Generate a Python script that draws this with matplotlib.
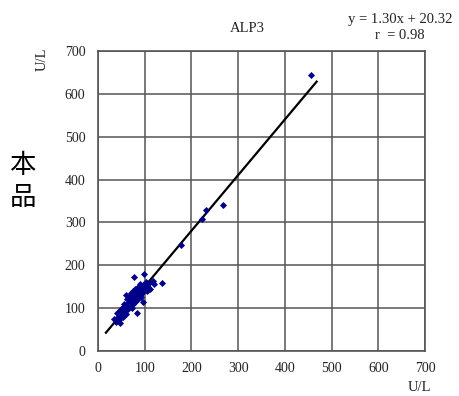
import numpy as np
import matplotlib
matplotlib.use("Agg")
import matplotlib.pyplot as plt

# data
x_vals = [35, 38, 40, 42, 45, 47, 48, 50, 52, 53, 55, 56, 58, 60, 60, 62, 63, 65, 65,
          67, 68, 70, 70, 72, 73, 75, 75, 77, 78, 78, 80, 80, 82, 83, 84, 85, 86, 88,
          88, 90, 90, 92, 93, 95, 96, 97, 98, 99, 100, 102, 104, 105, 108, 110, 112,
          118, 120, 136, 177, 223, 231, 267, 455]
y_vals = [75, 68, 88, 80, 72, 65, 95, 82, 100, 78, 90, 110, 95, 85, 130, 105, 120, 98, 112,
          125, 105, 118, 135, 100, 128, 110, 140, 122, 173, 132, 115, 145, 128, 138, 89, 150,
          120, 135, 145, 130, 155, 140, 125, 148, 138, 115, 155, 180, 145, 160, 140, 152,
          150, 158, 145, 162, 155, 158, 248, 308, 329, 341, 645]

slope = 1.30
intercept = 20.32
r_value = 0.98
fit_x_range = [17, 468]

ticks = [0, 100, 200, 300, 400, 500, 600, 700]

serif = ["Liberation Serif", "DejaVu Serif"]
txt_color = "#222222"

fig = plt.figure(figsize=(4.6, 3.96), dpi=100)
ax = fig.add_axes([0.213, 0.114, 0.711, 0.757])

# grid
ax.set_xlim(0, 700)
ax.set_ylim(0, 700)
ax.set_xticks(ticks)
ax.set_yticks(ticks)
ax.grid(True, color="#555555", linewidth=1.1)
ax.set_axisbelow(True)
for s in ax.spines.values():
    s.set_color("#555555")
    s.set_linewidth(1.2)
ax.tick_params(length=0, labelsize=10, labelcolor=txt_color)
ax.tick_params(axis="y", pad=9)
ax.tick_params(axis="x", pad=8)
for lab in ax.get_xticklabels() + ax.get_yticklabels():
    lab.set_family(serif)

# fitted line
fx = np.array(fit_x_range, dtype=float)
ax.plot(fx, slope * fx + intercept, color="black", linewidth=1.6, zorder=3)

# points
ax.scatter(x_vals, y_vals, marker="D", s=13, color="#00008b", zorder=4, linewidths=0)

# texts
fig.text(0.537, 0.928, "ALP3", ha="center", va="center", fontsize=10.5, family=serif,
         color=txt_color)
fig.text(0.87, 0.95, f"y = {slope:.2f}x + {intercept:.2f}", ha="center", va="center",
         fontsize=10.5, family=serif, color=txt_color)
fig.text(0.87, 0.91, f"r  = {r_value:.2f}", ha="center", va="center",
         fontsize=10.5, family=serif, color=txt_color)
fig.text(0.092, 0.85, "U/L", rotation=90, ha="center", va="center", fontsize=10.5,
         family=serif, color=txt_color)
fig.text(0.913, 0.022, "U/L", ha="center", va="center", fontsize=10.5,
         family=serif, color=txt_color)
fig.text(0.05, 0.541, "本\n品", ha="center", va="center", fontsize=19,
         family=["Noto Sans CJK SC", "DejaVu Sans"], linespacing=1.25)

fig.savefig("out.png", dpi=100)
